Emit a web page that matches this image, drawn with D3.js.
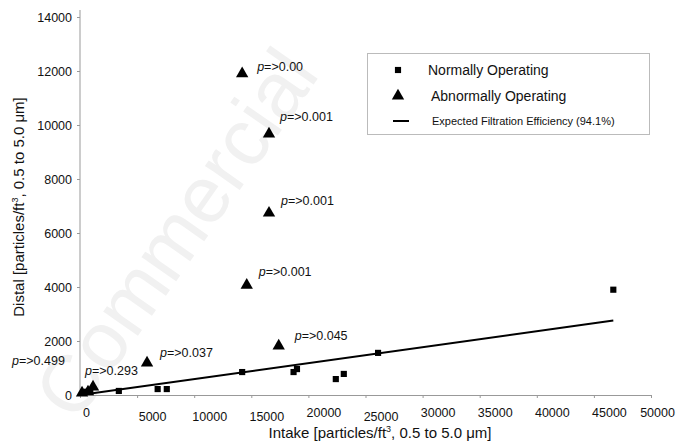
<!DOCTYPE html>
<html lang="en">
<head>
  <meta charset="utf-8">
  <title>Intake vs Distal</title>
  <script src="https://d3js.org/d3.v7.min.js"></script>
  <style>
  body { margin: 0; background: #fff; }
  text { font-family: "Liberation Sans", Arial, sans-serif; fill: #111; }
  .axis path, .axis line { stroke: #999; }
  </style>
</head>
<body>
<script>
// normally operating units: intake, distal
var normalIntake = [300, 600, 900, 3400, 6800, 7600, 14200, 18700, 19000, 22400, 23100, 26100, 46700];
var normalDistal = [100, 120, 150, 150, 220, 220, 850, 850, 960, 590, 780, 1560, 3900];

// abnormally operating units
var abnormalIntake = [14200, 16550, 16550, 14600, 17400, 5870, 1140, 180, 700];
var abnormalDistal = [11900, 9670, 6740, 4070, 1820, 1190, 300, 80, 120];
var pValues = ['0.00', '0.001', '0.001', '0.001', '0.045', '0.037', '0.293', '0.499', null];

var xTicks = [0, 5000, 10000, 15000, 20000, 25000, 30000, 35000, 40000, 45000, 50000];
var yTicks = [0, 2000, 4000, 6000, 8000, 10000, 12000, 14000];
var efficiency = 0.941;
var lineEnd = 46700;

var width = 679, height = 446;

var svg = d3.select('body').append('svg')
  .attr('width', width)
  .attr('height', height);

// faint watermark behind the chart
svg.append('text')
  .attr('transform', 'translate(76,424) rotate(-55)')
  .attr('font-size', 80)
  .style('fill', '#f1f1f1')
  .text('Commercial');

var x = d3.scaleLinear().domain([0, 50000]).range([80, 651]);
var y = d3.scaleLinear().domain([0, 14000]).range([395, 17]);

// axes
var xAxis = svg.append('g')
  .attr('class', 'axis')
  .attr('transform', 'translate(0,' + y(0) + ')')
  .call(d3.axisBottom(x).tickValues(xTicks).tickSize(3).tickSizeOuter(0).tickFormat(d3.format('d')));
xAxis.selectAll('text')
  .attr('font-size', 12.5)
  .attr('dx', function(d) { return d === 0 ? 6 : (d === 50000 ? 6 : 15); })
  .attr('dy', function(d, i) { return (i >= 1 && i <= 3) || i === 5 ? '1.6em' : '1.3em'; });

var yAxis = svg.append('g')
  .attr('class', 'axis')
  .attr('transform', 'translate(' + x(0) + ',0)')
  .call(d3.axisLeft(y).tickValues(yTicks).tickSize(3).tickSizeOuter(0).tickFormat(d3.format('d')));
yAxis.select('.domain').attr('d', 'M0,' + (y(0)) + 'V10');
yAxis.selectAll('text').attr('font-size', 12.5).attr('x', -8);

// axis titles
svg.append('text')
  .attr('x', 380).attr('y', 438)
  .attr('text-anchor', 'middle')
  .attr('font-size', 15)
  .html('Intake [particles/ft<tspan font-size="9" dy="-6">3</tspan><tspan dy="6">, 0.5 to 5.0 μm]</tspan>');

svg.append('text')
  .attr('transform', 'translate(24,207) rotate(-90)')
  .attr('text-anchor', 'middle')
  .attr('font-size', 15)
  .html('Distal [particles/ft<tspan font-size="9" dy="-6">3</tspan><tspan dy="6">, 0.5 to 5.0 μm]</tspan>');

// expected filtration efficiency line
svg.append('line')
  .attr('x1', x(0)).attr('y1', y(0))
  .attr('x2', x(lineEnd)).attr('y2', y(lineEnd * (1 - efficiency)))
  .attr('stroke', '#000')
  .attr('stroke-width', 2);

var square = d3.symbol().type(d3.symbolSquare).size(38);
var triangle = d3.symbol().type(d3.symbolTriangle).size(66);

svg.append('g').selectAll('path')
  .data(normalIntake)
  .enter().append('path')
  .attr('d', square)
  .attr('transform', function(d, i) { return 'translate(' + x(d) + ',' + y(normalDistal[i]) + ')'; })
  .attr('fill', '#000');

svg.append('g').selectAll('path')
  .data(abnormalIntake)
  .enter().append('path')
  .attr('d', triangle)
  .attr('transform', function(d, i) { return 'translate(' + x(d) + ',' + y(abnormalDistal[i]) + ')'; })
  .attr('fill', '#000');

// p-value labels, offsets from their triangle
var labelDx = [15, 11, 12, 12, 16, 13, -8, -70];
var labelDy = [-3, -13, -8, -9, -6, -6, -12, -28];

svg.append('g').selectAll('text')
  .data(pValues.filter(function(p) { return p !== null; }))
  .enter().append('text')
  .attr('x', function(d, i) { return x(abnormalIntake[i]) + labelDx[i]; })
  .attr('y', function(d, i) { return y(abnormalDistal[i]) + labelDy[i]; })
  .attr('font-size', 12.5)
  .html(function(d) { return '<tspan font-style="italic">p</tspan>=&gt;' + d; });

// legend
var legend = svg.append('g');
legend.append('rect')
  .attr('x', 367.5).attr('y', 53.5)
  .attr('width', 282).attr('height', 81)
  .attr('fill', '#fff')
  .attr('stroke', '#bbb');
legend.append('path').attr('d', square).attr('transform', 'translate(398,70)');
legend.append('text').attr('x', 428).attr('y', 75).attr('font-size', 14).text('Normally Operating');
legend.append('path').attr('d', triangle).attr('transform', 'translate(398,96)');
legend.append('text').attr('x', 431).attr('y', 101).attr('font-size', 14).text('Abnormally Operating');
legend.append('line').attr('x1', 393).attr('x2', 409).attr('y1', 121).attr('y2', 121)
  .attr('stroke', '#000').attr('stroke-width', 2);
legend.append('text').attr('x', 432).attr('y', 125).attr('font-size', 11).text('Expected Filtration Efficiency (94.1%)');
</script>
</body>
</html>
